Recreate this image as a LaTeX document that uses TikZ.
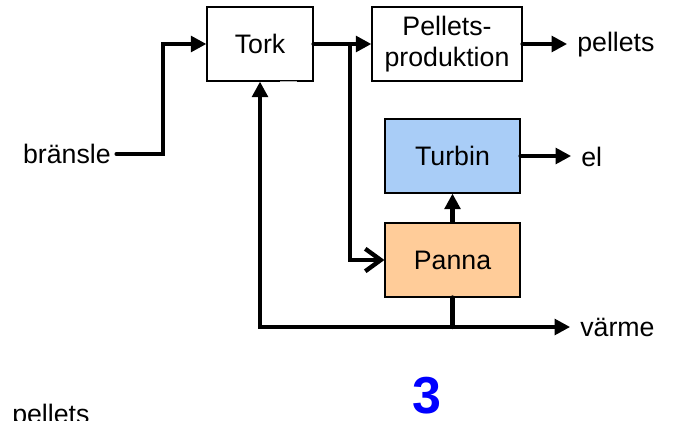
\documentclass[tikz,border=0pt]{standalone}
\usepackage{fontspec}
\setmainfont{Liberation Sans}
\usetikzlibrary{arrows.meta,calc}
\definecolor{turbinblue}{HTML}{A9CDF7}
\definecolor{pannaorange}{HTML}{FFCC99}
\definecolor{numblue}{HTML}{0000FF}

\begin{document}
\begin{tikzpicture}[x=0.025cm,y=-0.025cm,>={Triangle[length=11pt,width=11pt]},
  every node/.style={font=\fontsize{19}{22}\selectfont},
  unit/.style={draw,line width=0.8pt,minimum height=1.85cm,align=center,inner sep=0pt},
  flow/.style={line width=3.1pt},
  outlabel/.style={anchor=west,inner sep=0pt}]
\useasboundingbox (0,0) rectangle (675,420);
\node[unit,minimum width=2.65cm] (tork) at (260,44) {Tork};
\node[unit,minimum width=3.75cm] (pelletsprod) at (447,44) {Pellets-\\produktion};
\node[unit,minimum width=3.375cm,fill=turbinblue] (turbin) at (452.5,156) {Turbin};
\node[unit,minimum width=3.375cm,fill=pannaorange] (panna) at (452.5,260) {Panna};
\draw[gray!60,line width=0.8pt] ([xshift=0.5cm]tork.south) -- ([xshift=0.93cm]tork.south);
\node[anchor=east,inner sep=0pt] (bransle) at (111,154) {bränsle};
\node[outlabel] (pellets) at (577,45) {pellets};
\node[outlabel] (el) at (581,157) {el};
\node[outlabel] (varme) at (580,327) {värme};
\node[font=\fontsize{37}{40}\selectfont\bfseries,text=numblue,inner sep=0pt] (nr) at (427,396) {3};
\node[anchor=base west,inner sep=0pt] (pelletsbottom) at (12,423) {pellets};
\coordinate (feed) at (163,154);
\coordinate (split) at (350,44);
\draw[flow,->,shorten <=4pt,line cap=round] (bransle.east) -- (feed) |- (tork.west);
\draw[flow,->,line cap=round] (tork.east) -- (pelletsprod.west);
\draw[flow,-{Straight Barb[length=11pt,width=16pt]}] (split) |- (panna.west);
\draw[flow,->] (panna.north) -- (turbin.south);
\draw[flow,->,shorten >=7pt,line cap=round] (turbin.east) -- (turbin.east -| el.west);
\draw[flow,->,shorten >=7pt,line cap=round] (pelletsprod.east) -- (pelletsprod.east -| pellets.west);
\draw[flow,<->,shorten >=7pt] (tork.south) |- (varme.west);
\draw[flow,line cap=round] (panna.south) -- (panna.south |- varme.west);
\end{tikzpicture}
\end{document}
